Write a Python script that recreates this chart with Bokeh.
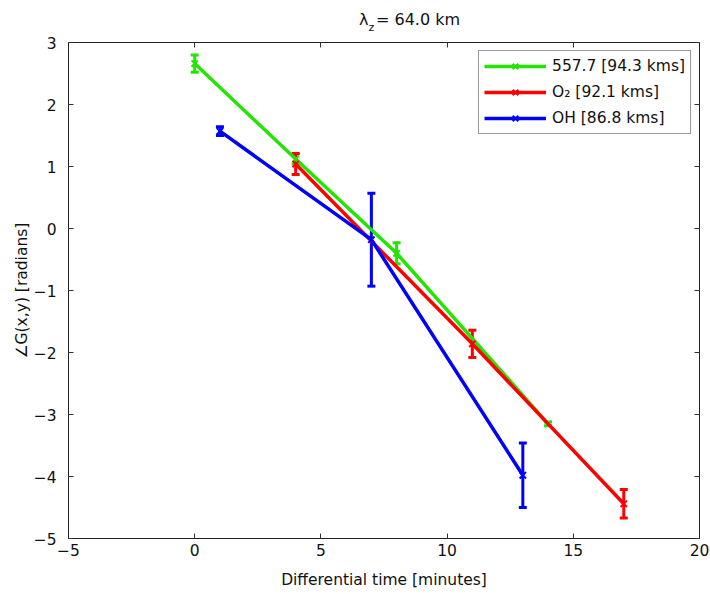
from bokeh.plotting import figure
from bokeh.layouts import column
from bokeh.models import (Range1d, LinearAxis, FixedTicker, ColumnDataSource,
                          Whisker, TeeHead, Legend, LegendItem, Label)
from bokeh.embed import file_html
from bokeh.resources import INLINE

# ---- data ----
green_x = [0, 4, 8, 14]
green_y = [2.66, 1.12, -0.40, -3.15]
green_err = [0.14, 0.08, 0.17, 0.03]

red_x = [4, 11, 17]
red_y = [1.04, -1.86, -4.44]
red_err = [0.17, 0.22, 0.23]

blue_x = [1, 7, 13]
blue_y = [1.57, -0.18, -3.98]
blue_err = [0.07, 0.75, 0.52]

series_names = ["557.7 [94.3 kms]", "O\u2082 [92.1 kms]", "OH [86.8 kms]"]
series_colors = ["#22e600", "#ff0000", "#0000ff"]

x_ticks = [-5, 0, 5, 10, 15, 20]
y_ticks = [-5, -4, -3, -2, -1, 0, 1, 2, 3]
x_tick_labels = ["\u22125", "0", "5", "10", "15", "20"]
y_tick_labels = ["\u22125", "\u22124", "\u22123", "\u22122", "\u22121", "0", "1", "2", "3"]

title_symbol = "\u03bb"
title_sub = "z"
title_main = "= 64.0 km"
xlabel = "Differential time [minutes]"
ylabel = "\u2220G(x,y) [radians]"

FONT = "DejaVu Sans"
FS = "15.5px"
TITLE_H = 36
W, H = 710, 594

# ---- title strip (separate small figure so the subscript can be placed) ----
tf = figure(width=W, height=TITLE_H, output_backend="svg", toolbar_location=None,
            x_range=Range1d(0, W), y_range=Range1d(0, TITLE_H),
            x_axis_type=None, y_axis_type=None, min_border=0)
tf.xgrid.visible = False
tf.ygrid.visible = False
tf.outline_line_color = None
tf.border_fill_color = "white"
tf.background_fill_color = "white"
tf.add_layout(Label(x=327, y=TITLE_H - 19, text=title_symbol, text_font=FONT,
                    text_font_size="16px", text_color="#111111", text_baseline="alphabetic"))
tf.add_layout(Label(x=337.5, y=TITLE_H - 26.5, text=title_sub, text_font=FONT,
                    text_font_size="11px", text_color="#111111", text_baseline="alphabetic"))
tf.add_layout(Label(x=346, y=TITLE_H - 19, text=title_main, text_font=FONT,
                    text_font_size="16px", text_color="#111111", text_baseline="alphabetic"))

# ---- main plot ----
p = figure(width=W, height=H - TITLE_H, output_backend="svg", toolbar_location=None,
           x_range=Range1d(-5, 20), y_range=Range1d(-5, 3),
           min_border_left=68, min_border_right=11, min_border_top=42 - TITLE_H,
           min_border_bottom=56)
p.xgrid.visible = False
p.ygrid.visible = False
p.outline_line_color = "#222222"
p.outline_line_width = 1
p.background_fill_color = "white"
p.border_fill_color = "white"

def style_axis(ax, ticks, labels, show_labels=True):
    ax.ticker = FixedTicker(ticks=ticks)
    ax.major_label_overrides = {t: l for t, l in zip(ticks, labels)}
    ax.major_tick_in = 5
    ax.major_tick_out = 0
    ax.minor_tick_in = 0
    ax.minor_tick_out = 0
    ax.major_tick_line_color = "#333333"
    ax.axis_line_color = "#222222"
    ax.major_label_text_font = FONT
    ax.major_label_text_font_size = FS if show_labels else "0px"
    ax.major_label_text_color = "#111111"
    ax.axis_label_text_font = FONT
    ax.axis_label_text_font_size = FS
    ax.axis_label_text_font_style = "normal"
    ax.axis_label_text_color = "#111111"
    if not show_labels:
        ax.major_label_standoff = 0

style_axis(p.xaxis[0], x_ticks, x_tick_labels)
style_axis(p.yaxis[0], y_ticks, y_tick_labels)
p.xaxis[0].axis_label = xlabel
p.yaxis[0].axis_label = ylabel
p.xaxis[0].major_label_standoff = 5
p.xaxis[0].axis_label_standoff = 12
p.yaxis[0].major_label_standoff = 12
p.yaxis[0].axis_label_standoff = 0

top_ax = LinearAxis()
style_axis(top_ax, x_ticks, ["" for _ in x_ticks], show_labels=False)
p.add_layout(top_ax, "above")
right_ax = LinearAxis()
style_axis(right_ax, y_ticks, ["" for _ in y_ticks], show_labels=False)
p.add_layout(right_ax, "right")

items = []
for xs, ys, errs, name, col in [(green_x, green_y, green_err, series_names[0], series_colors[0]),
                                 (red_x, red_y, red_err, series_names[1], series_colors[1]),
                                 (blue_x, blue_y, blue_err, series_names[2], series_colors[2])]:
    src = ColumnDataSource(dict(x=xs, y=ys,
                                lo=[a - b for a, b in zip(ys, errs)],
                                hi=[a + b for a, b in zip(ys, errs)]))
    ln = p.line("x", "y", source=src, line_color=col, line_width=3.5)
    w = Whisker(source=src, base="x", lower="lo", upper="hi", dimension="height",
                line_color=col, line_width=3,
                upper_head=TeeHead(size=8, line_color=col, line_width=3),
                lower_head=TeeHead(size=8, line_color=col, line_width=3))
    p.add_layout(w)
    mk = p.scatter("x", "y", source=src, marker="x", size=9, line_color=col, line_width=2)
    items.append(LegendItem(label=name, renderers=[ln, mk]))

legend = Legend(items=items, location="top_right")
legend.margin = 8
legend.padding = 5
legend.spacing = 6
legend.glyph_width = 62
legend.glyph_height = 20
legend.label_standoff = 6
legend.label_text_font = FONT
legend.label_text_font_size = FS
legend.label_text_color = "#111111"
legend.border_line_color = "#333333"
legend.border_line_width = 1
legend.background_fill_color = "white"
legend.background_fill_alpha = 1
p.add_layout(legend, "center")

layout = column(tf, p, spacing=0)
open("out.html", "w").write(file_html(layout, INLINE))
